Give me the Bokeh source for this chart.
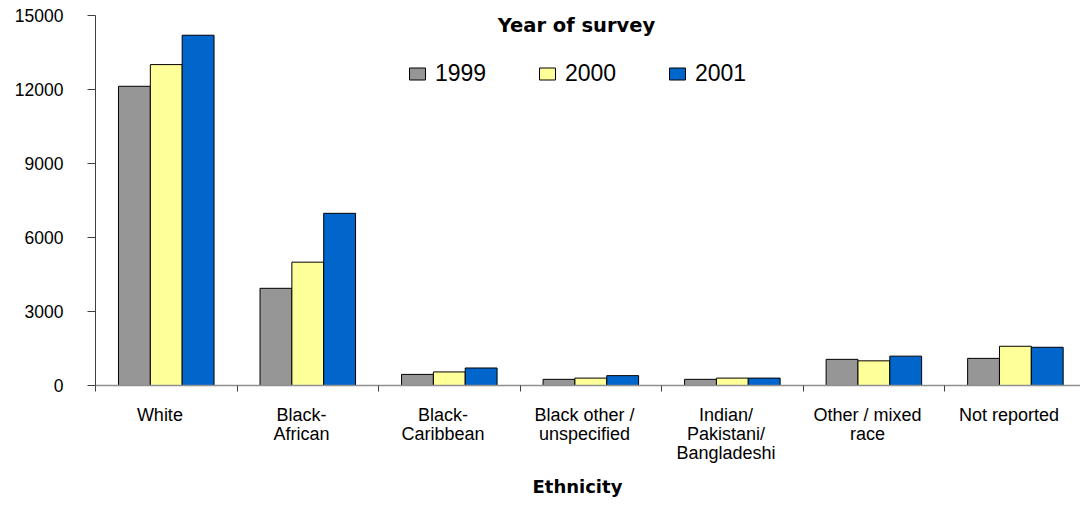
from bokeh.plotting import figure
from bokeh.models import (ColumnDataSource, Range1d, FixedTicker, Legend, LegendItem,
                          Label, Title)
from bokeh.transform import dodge
from bokeh.embed import file_html
from bokeh.resources import INLINE

categories = ["White", "Black-\nAfrican", "Black-\nCaribbean", "Black other /\nunspecified",
              "Indian/\nPakistani/\nBangladeshi", "Other / mixed\nrace", "Not reported"]
years = ["1999", "2000", "2001"]
y1999 = [12130, 3940, 450, 250, 250, 1060, 1100]
y2000 = [13010, 5000, 550, 300, 300, 1000, 1590]
y2001 = [14200, 6980, 710, 400, 300, 1190, 1550]
colors = ["#969696", "#FFFF99", "#0066CC"]
yticks = [0, 3000, 6000, 9000, 12000, 15000]

xc = [i + 0.5 for i in range(len(categories))]
src = ColumnDataSource(dict(x=xc, y1999=y1999, y2000=y2000, y2001=y2001))

p = figure(width=1080, height=505, x_range=Range1d(0, 6.96), y_range=Range1d(0, 15000),
           output_backend="svg", toolbar_location=None,
           min_border_left=95, min_border_right=0, min_border_top=15, min_border_bottom=120)
p.outline_line_color = None
p.grid.visible = False
p.background_fill_color = "white"

bw = 0.225
renderers = []
for i, (yr, col) in enumerate(zip(years, colors)):
    r = p.vbar(x=dodge("x", (i - 1) * bw, range=p.x_range), top="y" + yr, width=bw,
               source=src, fill_color=col, line_color="black", line_width=1)
    renderers.append(r)

# y axis
p.yaxis.ticker = FixedTicker(ticks=yticks)
p.yaxis.minor_tick_line_color = None
p.yaxis.major_tick_out = 8
p.yaxis.major_tick_in = 0
p.yaxis.axis_line_color = "#404040"
p.yaxis.major_tick_line_color = "#404040"
p.yaxis.major_label_standoff = 24
p.yaxis.major_label_text_font = "Liberation Sans"
p.yaxis.major_label_text_font_size = "17.5px"
p.yaxis.major_label_text_color = "black"

# x axis: labels sit slightly left of the category centre, ticks at category boundaries
label_pos = [x - 0.045 for x in xc]
p.xaxis.ticker = FixedTicker(ticks=label_pos, minor_ticks=list(range(len(categories) + 1)))
p.xaxis.major_label_overrides = {x: c for x, c in zip(label_pos, categories)}
p.xaxis.major_tick_line_color = None
p.xaxis.minor_tick_out = 6
p.xaxis.minor_tick_in = 0
p.xaxis.minor_tick_line_color = "#404040"
p.xaxis.axis_line_color = "#909090"
p.xaxis.axis_line_width = 1.5
p.xaxis.major_label_standoff = 13
p.xaxis.major_label_text_font = "Liberation Sans"
p.xaxis.major_label_text_font_size = "18px"
p.xaxis.major_label_text_line_height = 0.95
p.xaxis.major_label_text_color = "black"

legend = Legend(items=[LegendItem(label=yr, renderers=[r]) for yr, r in zip(years, renderers)],
                orientation="horizontal", location=(312, 298),
                glyph_width=20, glyph_height=15, label_standoff=8, spacing=50,
                label_width=52, padding=0, margin=0, border_line_color=None,
                background_fill_alpha=0, label_text_font="Liberation Sans",
                label_text_font_size="23px", label_text_color="black")
p.add_layout(legend)

p.add_layout(Label(x=481, y=360, x_units="screen", y_units="screen", text="Year of survey",
                   text_align="center", text_baseline="middle", text_font="DejaVu Sans",
                   text_font_style="bold", text_font_size="19.5px", text_color="black"))
p.add_layout(Title(text="Ethnicity", align="left", offset=437, text_font="DejaVu Sans",
                   text_font_style="bold", text_font_size="18px", text_color="black",
                   standoff=17), "below")

open("out.html", "w").write(file_html(p, INLINE))
